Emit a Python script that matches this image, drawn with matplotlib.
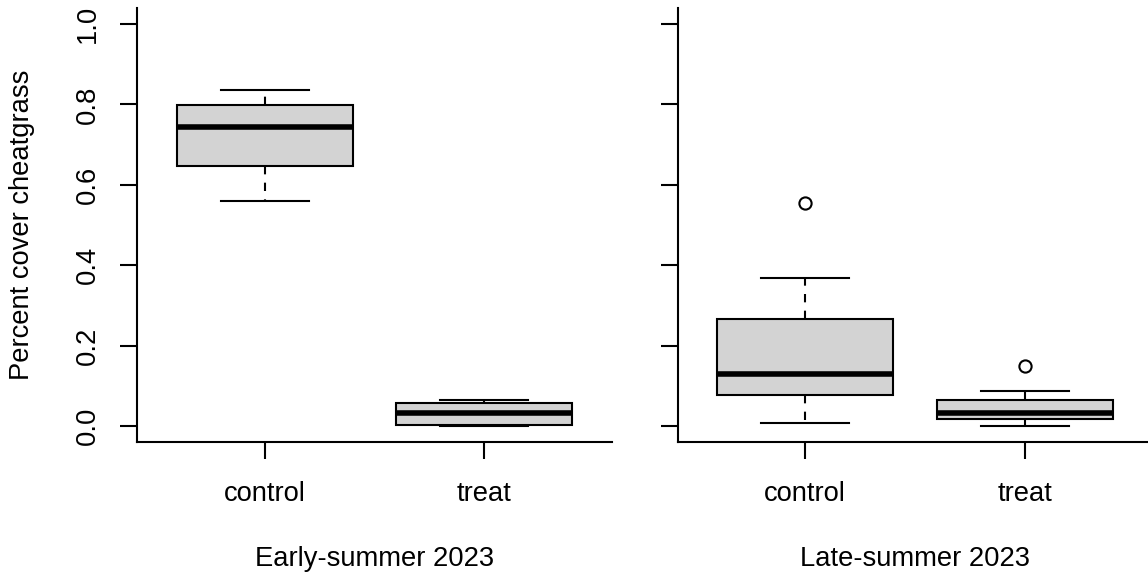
import matplotlib.pyplot as plt

plt.rcParams["font.family"] = ["Liberation Sans", "DejaVu Sans"]

groups = ["control", "treat"]
periods = ["Early-summer 2023", "Late-summer 2023"]

# five-number summaries: low whisker, q1, median, q3, high whisker
early_control = [0.560, 0.647, 0.745, 0.799, 0.836]
early_treat = [0.001, 0.003, 0.031, 0.057, 0.065]
late_control = [0.0075, 0.078, 0.129, 0.267, 0.368]
late_treat = [0.0, 0.018, 0.033, 0.064, 0.088]

early_outliers = [[], []]
late_outliers = [[0.555], [0.148]]

yticks = [0.0, 0.2, 0.4, 0.6, 0.8, 1.0]
ytick_labels = ["0.0", "0.2", "0.4", "0.6", "0.8", "1.0"]

LW = 1.5
FS = 19.7


def make_stats(summaries, outliers):
    stats = []
    for s, out in zip(summaries, outliers):
        stats.append(dict(whislo=s[0], q1=s[1], med=s[2], q3=s[3], whishi=s[4], fliers=out))
    return stats


def draw_panel(ax, stats, xlabel, show_ylabels):
    ax.bxp(
        stats,
        positions=[1, 2],
        widths=0.8,
        patch_artist=True,
        boxprops=dict(facecolor="#d3d3d3", edgecolor="black", linewidth=LW),
        medianprops=dict(color="black", linewidth=4.0, solid_capstyle="butt"),
        whiskerprops=dict(color="black", linewidth=LW, linestyle=(0, (4, 4))),
        capprops=dict(color="black", linewidth=LW),
        flierprops=dict(marker="o", markersize=8.8, markerfacecolor="none",
                        markeredgecolor="black", markeredgewidth=LW),
    )
    ax.set_xlim(0.42, 2.58)
    ax.set_ylim(-0.04, 1.04)
    ax.set_xticks([1, 2], groups)
    ax.set_yticks(yticks)
    for side in ["top", "right"]:
        ax.spines[side].set_visible(False)
    for side in ["left", "bottom"]:
        ax.spines[side].set_linewidth(LW)
    ax.tick_params(axis="both", length=12, width=LW, labelsize=FS, direction="out")
    ax.tick_params(axis="x", pad=16)
    ax.tick_params(axis="y", pad=14)
    if show_ylabels:
        ax.set_yticklabels(ytick_labels, rotation=90, va="center")
        ax.set_ylabel("Percent cover cheatgrass", fontsize=FS, labelpad=29)
    else:
        ax.set_yticklabels([])
    ax.set_xlabel(xlabel, fontsize=FS, labelpad=28)


fig = plt.figure(figsize=(11.48, 5.79), dpi=100)
ax1 = fig.add_axes([0.1196, 0.2366, 0.4132, 0.7496])
ax2 = fig.add_axes([0.5905, 0.2366, 0.4132, 0.7496])

draw_panel(ax1, make_stats([early_control, early_treat], early_outliers), periods[0], True)
draw_panel(ax2, make_stats([late_control, late_treat], late_outliers), periods[1], False)

fig.savefig("out.png", dpi=100)
